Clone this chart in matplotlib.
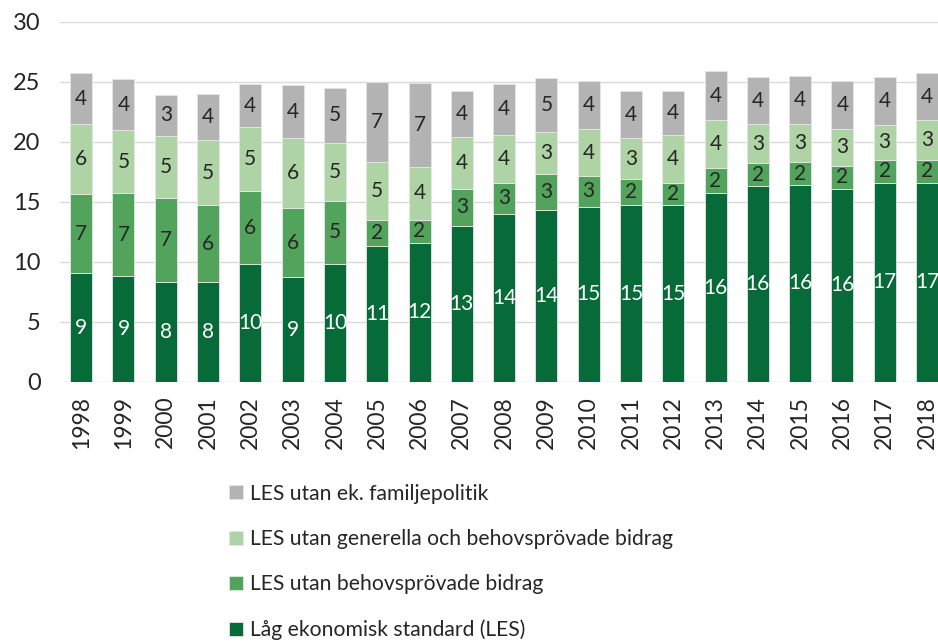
import numpy as np
import matplotlib.pyplot as plt
import matplotlib as mpl

mpl.rcParams['font.family'] = ['Lato', 'DejaVu Sans']

# ── Data ──────────────────────────────────────────────────────────────────────
years = [str(y) for y in range(1998, 2019)]

les = [9.06, 8.8, 8.3, 8.3, 9.8, 8.7, 9.8, 11.3, 11.6, 13.0, 14.0,
       14.3, 14.6, 14.7, 14.7, 15.7, 16.3, 16.4, 16.1, 16.6, 16.6]
utan_behov = [6.6, 6.9, 7.0, 6.4, 6.1, 5.8, 5.3, 2.2, 1.9, 3.1, 2.6,
              3.05, 2.55, 2.2, 1.9, 2.1, 1.9, 1.9, 1.9, 1.9, 1.9]
utan_gen = [5.8, 5.3, 5.2, 5.45, 5.3, 5.8, 4.8, 4.8, 4.4, 4.3, 4.0,
            3.45, 3.9, 3.4, 4.0, 4.0, 3.25, 3.2, 3.1, 2.9, 3.3]
utan_fam = [4.3, 4.2, 3.4, 3.8, 3.6, 4.4, 4.6, 6.7, 7.0, 3.8, 4.2,
            4.55, 4.0, 3.9, 3.6, 4.1, 3.95, 3.95, 4.0, 4.0, 3.9]

labels = ["Låg ekonomisk standard (LES)",
          "LES utan behovsprövade bidrag",
          "LES utan generella och behovsprövade bidrag",
          "LES utan ek. familjepolitik"]
colors = ['#066b38', '#52a35b', '#aed3a4', '#b3b3b3']
text_colors = ['white', '#262626', '#262626', '#262626']

# ── Plot ──────────────────────────────────────────────────────────────────────
fig = plt.figure(figsize=(9.38, 6.44), dpi=100)
ax = fig.add_axes([0.064, 0.407, 0.936, 0.559])

x = np.arange(len(years))
bottom = np.zeros(len(years))
handles = []
for vals, lab, col, tcol in zip([les, utan_behov, utan_gen, utan_fam],
                                labels, colors, text_colors):
    vals = np.array(vals)
    bars = ax.bar(x, vals, 0.52, bottom=bottom, color=col, label=lab,
                  edgecolor='#e6e6e6', linewidth=0.6, zorder=3)
    ax.bar_label(bars, fmt='%.0f', label_type='center', color=tcol,
                 fontsize=15)
    handles.append(bars)
    bottom += vals

ax.set_ylim(0, 30)
ax.set_yticks(range(0, 31, 5))
ax.set_xlim(-0.5, 20.26)
ax.set_xticks(x)
ax.set_xticklabels(years, rotation=90, fontsize=16.5, color='#262626')
ax.tick_params(axis='y', labelsize=17, labelcolor='#262626', length=0, pad=14)
ax.tick_params(axis='x', length=0, pad=10)
ax.grid(axis='y', color='#d9d9d9', lw=1.0, zorder=0)
for s in ax.spines.values():
    s.set_visible(False)

fig.legend(handles[::-1], labels[::-1], loc='upper left',
           bbox_to_anchor=(0.235, 0.262), frameon=False, fontsize=15.2,
           handlelength=0.65, handleheight=0.65, handletextpad=0.35,
           labelspacing=1.2, borderaxespad=0, labelcolor='#262626')

plt.savefig('out.png', dpi=100)
